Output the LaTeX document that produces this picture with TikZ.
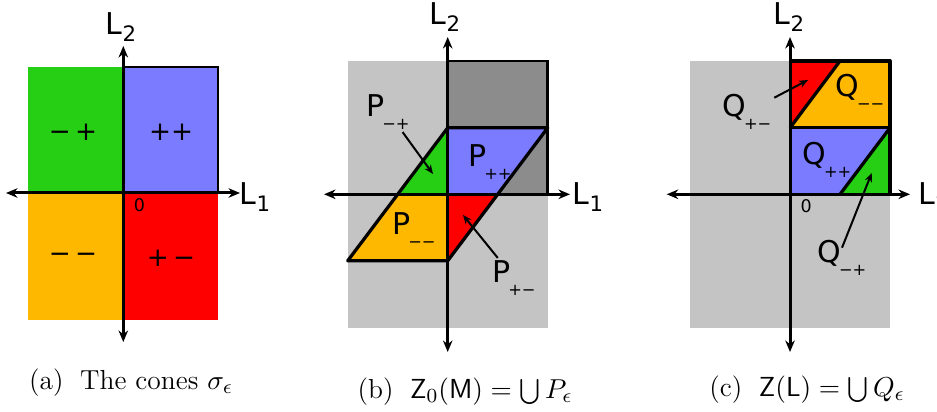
\documentclass[tikz,border=0pt]{standalone}
\usepackage{fontspec}
\usepackage{tikz}
\usetikzlibrary{arrows.meta, positioning}
\newfontfamily\labelfont{DejaVu Sans}
\definecolor{conegreen}{RGB}{38,206,20}
\definecolor{coneblue}{RGB}{123,123,255}
\definecolor{coneorange}{RGB}{255,184,0}
\definecolor{conered}{RGB}{255,0,0}
\definecolor{lightgrey}{RGB}{196,196,196}
\definecolor{darkgrey}{RGB}{140,140,140}
\newcommand\lsub[1]{\raisebox{-0.45ex}{\fontsize{8.5}{8.5}\selectfont#1}}
\newcommand\psub[1]{\kern-0.9pt\raisebox{-0.75ex}{\fontsize{6.5}{6.5}\selectfont#1}}

\begin{document}
\begin{tikzpicture}[
  x=0.4pt, y=-0.4pt,
  axis/.style={line width=1.2pt, {Stealth[length=4.6pt,width=3.8pt]}-{Stealth[length=4.6pt,width=3.8pt]}},
  edge/.style={line width=1.3pt, line join=round},
  ptr/.style={line width=0.8pt, -{Stealth[length=3.6pt,width=3pt]}},
  lab/.style={font=\labelfont\fontsize{12}{12}\selectfont, inner sep=1pt},
  sign/.style={font=\labelfont\fontsize{10.5}{10.5}\selectfont},
  zero/.style={font=\labelfont\fontsize{7}{7}\selectfont, inner sep=1pt},
  subcap/.style={font=\fontsize{11}{13}\selectfont}
]
\useasboundingbox (0,0) rectangle (937,412);

% (a) the four cones
\coordinate (Oa) at (123.3,193);
\fill[conegreen]  (27.7,67) rectangle (Oa);
\fill[coneorange] (27.7,320) rectangle (Oa);
\fill[conered]    (218,320) rectangle (Oa);
\filldraw[fill=coneblue, draw=black, line width=0.5pt] (218,67) rectangle (Oa);
\draw[axis] (6,193) -- (240,193);
\draw[axis] (123.3,342) -- (123.3,46);
\node[lab] (L2a) at (121,27) {L\lsub{2}};
\node[lab] (L1a) at (255,197) {L\lsub{1}};
\node[zero, below right=1pt and 3pt of Oa] (zeroa) {0};
\node[sign] (smp) at (73,132) {−\,+};
\node[sign] (spp) at (171,132) {++};
\node[sign] (smm) at (73,258) {−\,−};
\node[sign] (spm) at (171,258) {+\,−};
\node[subcap] (capa) at (131,383) {(a)\; The cones $\sigma_\epsilon$};

% (b) the zonotope Z_0(M)
\coordinate (Ob) at (447.7,194.3);
\fill[lightgrey] (347.7,61) rectangle (547.7,327.7);
\filldraw[fill=darkgrey, draw=black, line width=1pt] (447.7,61) rectangle (547.7,194.3);
\fill[conegreen]  (447.7,127.8) -- (Ob) -- (397.7,194.3) -- cycle;
\fill[coneblue]   (447.7,127.8) -- (547.7,127.8) -- (497.7,194.3) -- (Ob) -- cycle;
\fill[coneorange] (397.7,194.3) -- (Ob) -- (447.7,260.8) -- (347.7,260.8) -- cycle;
\fill[conered]    (Ob) -- (497.7,194.3) -- (447.7,260.8) -- cycle;
\draw[edge] (447.7,127.8) -- (547.7,127.8) -- (447.7,260.8) -- (347.7,260.8) -- cycle;
\draw[axis] (324,194.3) -- (570,194.3);
\draw[axis] (447.7,352) -- (447.7,37);
\node[lab] (L2b) at (445,17) {L\lsub{2}};
\node[lab] (L1b) at (588,197) {L\lsub{1}};
\node[lab] (Ppp) at (490,162) {P\psub{++}};
\node[lab] (Pmp) at (388,112) {P\psub{−+}};
\node[lab] (Pmm) at (414,230) {P\psub{−−}};
\node[lab] (Ppm) at (514,278) {P\psub{+−}};
\coordinate (Pmptip) at (433,174);
\coordinate (Ppmtip) at (463,215);
\draw[ptr] (Pmp) -- (Pmptip);
\draw[ptr] (Ppm) -- (Ppmtip);
\node[subcap] (capb) at (465,392) {(b)\; $\mathsf{Z}_0(\mathsf{M})=\bigcup P_\epsilon$};

% (c) the zonotope Z(L)
\coordinate (Oc) at (790,194.3);
\fill[lightgrey] (690,61) rectangle (890,327.7);
\fill[conered]    (790,61) -- (840,61) -- (790,127.8) -- cycle;
\fill[coneorange] (840,61) -- (890,61) -- (890,127.8) -- (790,127.8) -- cycle;
\fill[coneblue]   (790,127.8) -- (890,127.8) -- (840,194.3) -- (Oc) -- cycle;
\fill[conegreen]  (890,127.8) -- (890,194.3) -- (840,194.3) -- cycle;
\draw[edge] (790,61) -- (890,61) -- (890,194.3);
\draw[edge] (790,127.8) -- (890,127.8);
\draw[edge] (790,127.8) -- (840,61);
\draw[edge] (890,127.8) -- (840,194.3);
\draw[axis] (666.7,194.3) -- (910,194.3);
\draw[axis] (790,352) -- (790,37);
\node[lab] (L2c) at (789,17) {L\lsub{2}};
\node[lab, anchor=west] (L1c) at (915,197) {L\lsub{1}};
\node[zero, below right=1pt and 3pt of Oc] (zeroc) {0};
\node[lab] (Qpm) at (747,112) {Q\psub{+−}};
\node[lab] (Qmm) at (860,92) {Q\psub{−−}};
\node[lab] (Qpp) at (827,160) {Q\psub{++}};
\node[lab] (Qmp) at (842,258) {Q\psub{−+}};
\coordinate (Qpmtip) at (808,80);
\coordinate (Qmptip) at (871.7,173);
\draw[ptr] (Qpm) -- (Qpmtip);
\draw[ptr] ([yshift=-4pt]Qmp.north) -- (Qmptip);
\node[subcap] (capc) at (807,390) {(c)\; $\mathsf{Z}(\mathsf{L})=\bigcup Q_\epsilon$};
\end{tikzpicture}
\end{document}
